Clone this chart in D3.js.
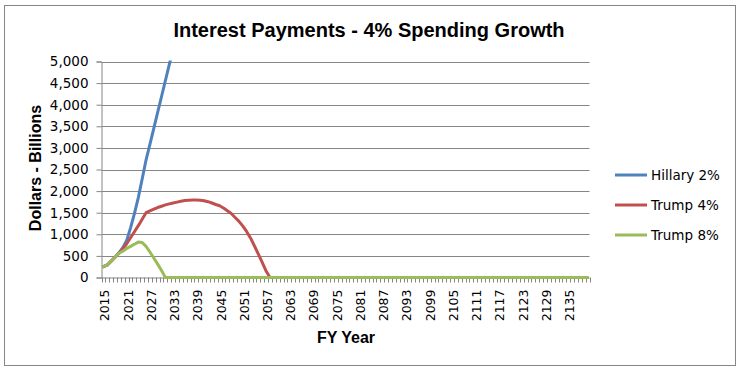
<!DOCTYPE html>
<html>
<head>
<meta charset="utf-8">
<script src="https://cdn.jsdelivr.net/npm/d3@7"></script>
<style>
  body { margin: 0; background: #fff; }
  text { fill: #000; }
</style>
</head>
<body>
<div id="chart"></div>
<script>
// categories: fiscal years
const years = d3.range(2015, 2141);

// series values (billions of dollars), one per year from 2015
const hillary2 = [250, 290, 380, 470, 570, 690, 860, 1150, 1480, 1850,
  2280, 2720, 3080, 3450, 3820, 4190, 4560, 4930, 5300, 5670];

const trump4 = [250, 290, 380, 470, 560, 660, 780, 920, 1060, 1200,
  1350, 1500, 1540, 1580, 1620, 1650, 1680, 1705, 1725, 1745,
  1765, 1780, 1790, 1795, 1795, 1790, 1775, 1755, 1725, 1690,
  1660, 1610, 1545, 1480, 1390, 1300, 1190, 1060, 910, 730,
  540, 350, 150, 0, 0, 0, 0, 0, 0, 0,
  0, 0, 0, 0, 0, 0, 0, 0, 0, 0,
  0, 0, 0, 0, 0, 0, 0, 0, 0, 0,
  0, 0, 0, 0, 0, 0, 0, 0, 0, 0,
  0, 0, 0, 0, 0, 0, 0, 0, 0, 0,
  0, 0, 0, 0, 0, 0, 0, 0, 0, 0,
  0, 0, 0, 0, 0, 0, 0, 0, 0, 0,
  0, 0, 0, 0, 0, 0, 0, 0, 0, 0,
  0, 0, 0, 0, 0, 0];

const trump8 = [250, 290, 380, 470, 560, 610, 670, 720, 770, 820,
  810, 720, 590, 450, 310, 160, 0, 0, 0, 0,
  0, 0, 0, 0, 0, 0, 0, 0, 0, 0,
  0, 0, 0, 0, 0, 0, 0, 0, 0, 0,
  0, 0, 0, 0, 0, 0, 0, 0, 0, 0,
  0, 0, 0, 0, 0, 0, 0, 0, 0, 0,
  0, 0, 0, 0, 0, 0, 0, 0, 0, 0,
  0, 0, 0, 0, 0, 0, 0, 0, 0, 0,
  0, 0, 0, 0, 0, 0, 0, 0, 0, 0,
  0, 0, 0, 0, 0, 0, 0, 0, 0, 0,
  0, 0, 0, 0, 0, 0, 0, 0, 0, 0,
  0, 0, 0, 0, 0, 0, 0, 0, 0, 0,
  0, 0, 0, 0, 0, 0];

const seriesNames = ['Hillary 2%', 'Trump 4%', 'Trump 8%'];
const seriesColors = ['#4F81BD', '#C0504D', '#9BBB59'];
const yTicks = d3.range(0, 5001, 500);

const series = [hillary2, trump4, trump8].map((vals, i) => ({
  name: seriesNames[i],
  color: seriesColors[i],
  values: vals.map((v, j) => ({ year: years[j], value: v }))
}));

const width = 744, height = 372;
const plot = { left: 101.5, right: 589.5, top: 61.5, bottom: 277.5 };

const svg = d3.select('#chart').append('svg')
  .attr('width', width)
  .attr('height', height);

// chart border
svg.append('rect')
  .attr('x', 4.5).attr('y', 5.5)
  .attr('width', 731).attr('height', 360)
  .attr('fill', '#fff')
  .attr('stroke', '#868686');

const x = d3.scaleBand().domain(years).range([plot.left, plot.right]).padding(0);
const y = d3.scaleLinear().domain([0, 5000]).range([plot.bottom, plot.top]);
const cx = d => x(d) + x.bandwidth() / 2;

// gridlines
svg.append('g')
  .selectAll('line')
  .data(yTicks.filter(t => t > 0))
  .join('line')
  .attr('x1', plot.left).attr('x2', plot.right)
  .attr('y1', d => Math.round(y(d)) + 0.5).attr('y2', d => Math.round(y(d)) + 0.5)
  .attr('stroke', '#868686').attr('stroke-width', 1);

// y axis
const yAxis = svg.append('g')
  .attr('transform', `translate(${plot.left},0)`)
  .call(d3.axisLeft(y).tickValues(yTicks).tickSize(5).tickPadding(8).tickFormat(d3.format(',')));
yAxis.select('.domain').attr('stroke', '#868686');
yAxis.selectAll('.tick line').attr('stroke', '#868686');
yAxis.selectAll('.tick text')
  .style('font-family', '"DejaVu Sans", Verdana, sans-serif')
  .style('font-size', '13.5px')
  .attr('fill', '#000');

// x axis: ticks at category boundaries
const xg = svg.append('g');
xg.append('line')
  .attr('x1', plot.left).attr('x2', plot.right)
  .attr('y1', plot.bottom + 0.5).attr('y2', plot.bottom + 0.5)
  .attr('stroke', '#868686');
xg.selectAll('line.tk')
  .data(years.concat([null]))
  .join('line')
  .attr('class', 'tk')
  .attr('x1', (d, i) => Math.round(plot.left + i * x.bandwidth()) + 0.5)
  .attr('x2', (d, i) => Math.round(plot.left + i * x.bandwidth()) + 0.5)
  .attr('y1', plot.bottom).attr('y2', plot.bottom + 5)
  .attr('stroke', '#868686');
xg.selectAll('text')
  .data(years.filter((d, i) => i % 6 === 0))
  .join('text')
  .attr('transform', d => `translate(${cx(d) + 1.5},${plot.bottom + 12}) rotate(-90)`)
  .attr('dy', '0.35em')
  .attr('text-anchor', 'end')
  .style('font-family', '"DejaVu Sans", Verdana, sans-serif')
  .style('font-size', '12.5px')
  .text(d => d);

// lines, clipped to plot area
svg.append('clipPath').attr('id', 'clip')
  .append('rect')
  .attr('x', plot.left).attr('y', plot.top - 1)
  .attr('width', plot.right - plot.left).attr('height', plot.bottom - plot.top + 4);

const line = d3.line().x(d => cx(d.year)).y(d => y(d.value));

svg.append('g').attr('clip-path', 'url(#clip)')
  .selectAll('path')
  .data(series)
  .join('path')
  .attr('d', d => line(d.values))
  .attr('fill', 'none')
  .attr('stroke', d => d.color)
  .attr('stroke-width', 3)
  .attr('stroke-linejoin', 'round')
  .attr('stroke-linecap', 'round');

// title
svg.append('text')
  .attr('x', 369).attr('y', 37)
  .attr('text-anchor', 'middle')
  .style('font-family', '"Liberation Sans", Arial, sans-serif')
  .style('font-weight', 'bold')
  .style('font-size', '20px')
  .text('Interest Payments - 4% Spending Growth');

// axis titles
svg.append('text')
  .attr('x', 346).attr('y', 343)
  .attr('text-anchor', 'middle')
  .style('font-family', '"Liberation Sans", Arial, sans-serif')
  .style('font-weight', 'bold')
  .style('font-size', '16px')
  .text('FY Year');

svg.append('text')
  .attr('transform', 'translate(41,168) rotate(-90)')
  .attr('text-anchor', 'middle')
  .style('font-family', '"Liberation Sans", Arial, sans-serif')
  .style('font-weight', 'bold')
  .style('font-size', '16px')
  .text('Dollars - Billions');

// legend
const legend = svg.append('g')
  .selectAll('g')
  .data(series)
  .join('g')
  .attr('transform', (d, i) => `translate(615,${175 + i * 30})`);

legend.append('line')
  .attr('x1', 0).attr('x2', 32)
  .attr('y1', 0).attr('y2', 0)
  .attr('stroke', d => d.color)
  .attr('stroke-width', 3);

legend.append('text')
  .attr('x', 36).attr('dy', '0.35em')
  .style('font-family', '"DejaVu Sans", Verdana, sans-serif')
  .style('font-size', '13.5px')
  .text(d => d.name);
</script>
</body>
</html>
